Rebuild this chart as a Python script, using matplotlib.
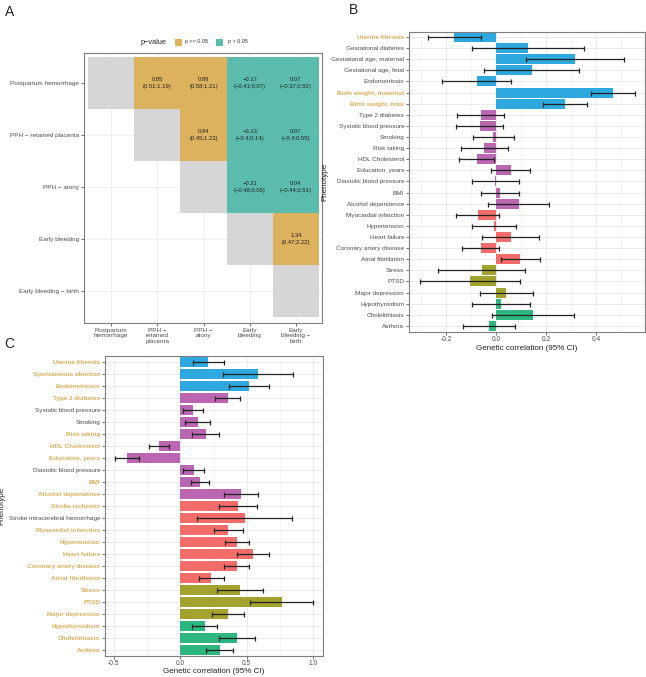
import numpy as np
import matplotlib
matplotlib.use("Agg")
import matplotlib.pyplot as plt
from matplotlib.colors import ListedColormap
from matplotlib.patches import Rectangle

plt.rcParams['font.family'] = ['Liberation Sans', 'DejaVu Sans']

# ---------------- Data: panel A ----------------
hm_labels = ["Postpartum hemorrhage", "PPH − retained placenta", "PPH − atony",
             "Early bleeding", "Early bleeding − birth"]
hm_xlabels = ["Postpartum\nhemorrhage", "PPH −\nretained\nplacenta", "PPH −\natony",
              "Early\nbleeding", "Early\nbleeding −\nbirth"]
hm_rows = [0, 0, 0, 0, 1, 1, 1, 2, 2, 3]
hm_cols = [1, 2, 3, 4, 2, 3, 4, 3, 4, 4]
hm_est = [0.85, 0.89, -0.17, 0.07, 0.84, -0.13, 0.07, -0.21, 0.04, 1.34]
hm_lo = [0.51, 0.58, -0.41, -0.37, 0.45, -0.4, -0.4, -0.48, -0.44, 0.47]
hm_hi = [1.19, 1.21, 0.07, 0.52, 1.23, 0.14, 0.55, 0.05, 0.51, 2.22]
hm_sig = [1, 1, 0, 0, 1, 0, 0, 0, 0, 1]

# ---------------- Data: panel B ----------------
b_labels = ["Uterine fibroids", "Gestational diabetes", "Gestational age, maternal",
            "Gestational age, fetal", "Endometriosis", "Birth weight, maternal",
            "Birth weight, fetal", "Type 2 diabetes", "Systolic blood pressure", "Smoking",
            "Risk taking", "HDL Cholesterol", "Education, years", "Diastolic blood pressure",
            "BMI", "Alcohol dependence", "Myocardial infarction", "Hypertension",
            "Heart failure", "Coronary artery disease", "Atrial fibrillation", "Stress",
            "PTSD", "Major depression", "Hypothyroidism", "Cholelithiasis", "Asthma"]
b_est = [-0.167, 0.127, 0.315, 0.143, -0.077, 0.469, 0.276, -0.060, -0.065, -0.011,
         -0.047, -0.077, 0.059, -0.005, 0.016, 0.091, -0.073, -0.008, 0.059, -0.061,
         0.096, -0.056, -0.105, 0.041, 0.019, 0.147, -0.027]
b_lo = [-0.273, -0.095, 0.119, -0.047, -0.215, 0.380, 0.188, -0.155, -0.160, -0.091,
        -0.140, -0.147, -0.020, -0.097, -0.059, -0.032, -0.159, -0.095, -0.056, -0.135,
        0.019, -0.231, -0.305, -0.065, -0.095, -0.015, -0.131]
b_hi = [-0.059, 0.352, 0.511, 0.333, 0.060, 0.557, 0.364, 0.031, 0.027, 0.072,
        0.049, -0.008, 0.135, 0.093, 0.091, 0.211, 0.012, 0.080, 0.171, 0.012,
        0.177, 0.117, 0.095, 0.147, 0.137, 0.311, 0.075]
b_group = ["preg"] * 7 + ["metab"] * 9 + ["cardio"] * 5 + ["psych"] * 3 + ["other"] * 3
b_sig = [1, 0, 0, 0, 0, 1, 1] + [0] * 20

# ---------------- Data: panel C ----------------
c_labels = ["Uterine fibroids", "Spontaneous abortion", "Endometriosis", "Type 2 diabetes",
            "Systolic blood pressure", "Smoking", "Risk taking", "HDL Cholesterol",
            "Education, years", "Diastolic blood pressure", "BMI", "Alcohol dependence",
            "Stroke ischemic", "Stroke intracerebral hemorrhage", "Myocardial infarction",
            "Hypertension", "Heart failure", "Coronary artery disease", "Atrial fibrillation",
            "Stress", "PTSD", "Major depression", "Hypothyroidism", "Cholelithiasis", "Asthma"]
c_est = [0.210, 0.585, 0.515, 0.355, 0.098, 0.130, 0.193, -0.158, -0.398, 0.100, 0.148,
         0.455, 0.435, 0.483, 0.360, 0.428, 0.545, 0.423, 0.233, 0.448, 0.763, 0.358,
         0.183, 0.423, 0.295]
c_lo = [0.093, 0.318, 0.365, 0.258, 0.020, 0.038, 0.090, -0.235, -0.490, 0.020, 0.078,
        0.330, 0.290, 0.128, 0.255, 0.338, 0.425, 0.328, 0.140, 0.278, 0.525, 0.235,
        0.090, 0.288, 0.195]
c_hi = [0.328, 0.850, 0.663, 0.448, 0.173, 0.220, 0.293, -0.083, -0.308, 0.180, 0.218,
        0.583, 0.580, 0.840, 0.468, 0.520, 0.665, 0.515, 0.330, 0.620, 1.000, 0.478,
        0.278, 0.558, 0.393]
c_group = ["preg"] * 3 + ["metab"] * 9 + ["cardio"] * 7 + ["psych"] * 3 + ["other"] * 3
c_sig = [1, 1, 1, 1, 0, 0, 1, 1, 1, 0, 1, 1, 1, 0, 1, 1, 1, 1, 1, 1, 1, 1, 1, 1, 1]

# ---------------- Styles ----------------
group_colors = {"preg": "#2EA9E0", "metab": "#BA66B2", "cardio": "#F26D69",
                "psych": "#A4A22E", "other": "#2DB67F"}
GOLD = "#DDB25E"
TEAL = "#5BBBAD"
DIAG = "#D6D6D6"
TXT = "#4D4D4D"
HILITE = "#D9AE5C"
GRID = "#EBEBEB"
BORDER = "#7F7F7F"

W, H = 646, 677
fig = plt.figure(figsize=(W / 100, H / 100), dpi=100)


def px_axes(x0, y0, x1, y1):
    return fig.add_axes([x0 / W, 1 - y1 / H, (x1 - x0) / W, (y1 - y0) / H])


def style_axes(ax):
    for s in ax.spines.values():
        s.set_color(BORDER)
        s.set_linewidth(0.8)
    ax.tick_params(length=2, width=0.5, color="#333333", pad=1.5)
    ax.set_axisbelow(True)


def fmt(v):
    return f"{v:g}".replace("-", "\u2212")


# ---------------- Panel A ----------------
axA = px_axes(84, 53, 322, 323)
n = len(hm_labels)
mat = np.full((n, n), np.nan)
for i in range(n):
    mat[i, i] = 0
for r, c, s in zip(hm_rows, hm_cols, hm_sig):
    mat[r, c] = 1 if s else 2
axA.pcolormesh(np.arange(n + 1) - 0.5, np.arange(n + 1) - 0.5, np.ma.masked_invalid(mat),
               cmap=ListedColormap([DIAG, GOLD, TEAL]), vmin=-0.5, vmax=2.5, zorder=2)
for r, c, e, lo, hi in zip(hm_rows, hm_cols, hm_est, hm_lo, hm_hi):
    axA.text(c, r, f"{fmt(e)}\n({fmt(lo)};{fmt(hi)})", ha="center", va="center",
             fontsize=4.2, color="#222222", linespacing=1.5, zorder=3)
axA.set_xlim(-0.587, n - 0.435)
axA.set_ylim(n - 0.385, -0.577)
axA.set_xticks(range(n))
axA.set_xticklabels(hm_xlabels, fontsize=4.6, color=TXT, linespacing=1.1)
axA.set_yticks(range(n))
axA.set_yticklabels(hm_labels, fontsize=4.6, color=TXT)
axA.grid(True, color=GRID, lw=0.6)
style_axes(axA)

# legend for A
fig.text(141 / W, 1 - 42 / H, "p\u2212value", fontsize=5.3, color="#222222",
         va="center", ha="left")
fig.patches.append(Rectangle((175 / W, 1 - 46 / H), 7 / W, 7 / H, transform=fig.transFigure,
                             facecolor=GOLD, edgecolor="none"))
fig.text(185 / W, 1 - 42 / H, "p <= 0.05", fontsize=3.9, color="#333333", va="center")
fig.patches.append(Rectangle((216 / W, 1 - 46 / H), 7 / W, 7 / H, transform=fig.transFigure,
                             facecolor=TEAL, edgecolor="none"))
fig.text(228 / W, 1 - 42 / H, "p > 0.05", fontsize=3.9, color="#333333", va="center")


# ---------------- Bar panels ----------------
def bar_panel(ax, labels, est, lo, hi, groups, sig, xlim, major, minor, rowpad):
    y = np.arange(len(labels))
    cols = [group_colors[g] for g in groups]
    ax.barh(y, est, height=0.9, color=cols, zorder=2)
    est_a = np.array(est)
    ax.errorbar(est, y, xerr=[est_a - np.array(lo), np.array(hi) - est_a], fmt="none",
                ecolor="#222222", elinewidth=0.9, capsize=1.8, capthick=0.9, zorder=3)
    ax.set_xlim(*xlim)
    ax.set_ylim(len(labels) - 1 + rowpad[1], -rowpad[0])
    ax.set_yticks(y)
    ax.set_yticklabels(labels, fontsize=4.6)
    for t, s in zip(ax.get_yticklabels(), sig):
        if s:
            t.set_color(HILITE)
            t.set_fontweight("bold")
        else:
            t.set_color(TXT)
    ax.set_xticks(major)
    ax.set_xticks(minor, minor=True)
    ax.tick_params(axis="x", which="minor", length=0)
    ax.tick_params(axis="x", labelsize=4.8, labelcolor=TXT, pad=1.0)
    ax.grid(True, which="major", color=GRID, lw=0.7)
    ax.grid(True, which="minor", axis="x", color="#F2F2F2", lw=0.5)
    ax.set_xlabel("Genetic correlation (95% CI)", fontsize=5.8, color="#222222", labelpad=1)
    ax.set_ylabel("Phenotype", fontsize=5.8, color="#222222", labelpad=2)
    style_axes(ax)
    ax.tick_params(axis="x", pad=1.0)


axB = px_axes(409, 32, 645, 332)
bar_panel(axB, b_labels, b_est, b_lo, b_hi, b_group, b_sig, (-0.348, 0.596),
          [-0.2, 0.0, 0.2, 0.4], [-0.3, -0.1, 0.1, 0.3, 0.5], (0.45, 0.55))
axB.set_xticklabels(["-0.2", "0.0", "0.2", "0.4"])

axC = px_axes(105, 356, 323, 656)
bar_panel(axC, c_labels, c_est, c_lo, c_hi, c_group, c_sig, (-0.565, 1.072),
          [-0.5, 0.0, 0.5, 1.0], [-0.25, 0.25, 0.75], (0.5, 0.5))
axC.set_xticklabels(["-0.5", "0.0", "0.5", "1.0"])
axC.xaxis.labelpad = 0.3

# panel letters
fig.text(5 / W, 1 - 12 / H, "A", fontsize=10, va="center", ha="left", color="#222222")
fig.text(349 / W, 1 - 10 / H, "B", fontsize=10, va="center", ha="left", color="#222222")
fig.text(4 / W, 1 - 344 / H, "C", fontsize=10, va="center", ha="left", color="#222222")

fig.savefig("out.png", dpi=100)
